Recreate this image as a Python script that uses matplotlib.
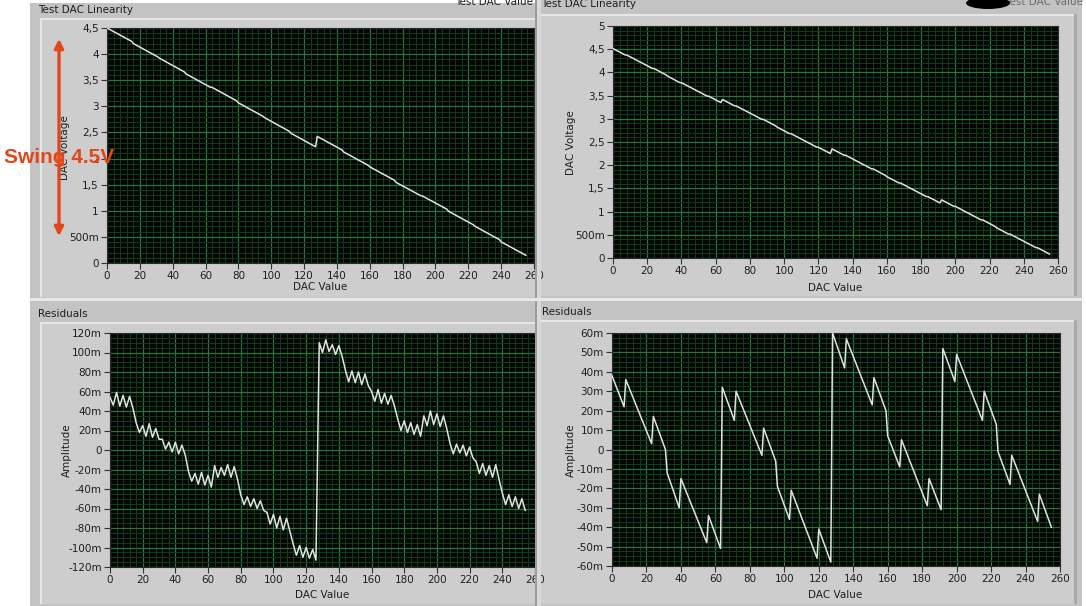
import matplotlib
matplotlib.use("Agg")
import matplotlib.pyplot as plt
from matplotlib.patches import Rectangle, FancyArrowPatch, Ellipse
from matplotlib.ticker import FixedLocator, MultipleLocator

W, H = 1086, 606

# ---------------- data ----------------
# left DAC: output voltage at the codes where the staircase breaks
lin1_code = [0, 15, 16, 31, 32, 47, 48, 63, 64, 79, 80, 95, 96, 111, 112, 127,
             128, 143, 144, 159, 160, 175, 176, 191, 192, 207, 208, 223, 224, 239, 240, 255]
lin1_volt = [4.500, 4.244, 4.203, 3.945, 3.921, 3.661, 3.623, 3.364,
             3.363, 3.104, 3.067, 2.809, 2.782, 2.522, 2.484, 2.226,
             2.424, 2.167, 2.128, 1.871, 1.842, 1.585, 1.544, 1.289,
             1.284, 1.029, 0.989, 0.733, 0.704, 0.446, 0.405, 0.148]

# left DAC: residuals (mV), every second code 0..254
res1_code = list(range(0, 256, 2))
res1_mv = [54, 46, 59, 45, 56, 44, 55, 43,
           28, 18, 25, 14, 27, 13, 22, 11,
           11, 1, 8, -2, 8, -4, 5, -5,
           -22, -32, -24, -35, -23, -36, -26, -38,
           -16, -28, -18, -26, -15, -28, -17, -30,
           -46, -56, -48, -58, -50, -60, -52, -62,
           -64, -76, -66, -80, -68, -82, -70, -83,
           -96, -108, -98, -110, -100, -111, -102, -113,
           110, 100, 113, 101, 108, 98, 107, 96,
           82, 70, 81, 69, 80, 67, 78, 66,
           60, 50, 62, 48, 58, 47, 56, 45,
           32, 20, 30, 18, 28, 16, 26, 14,
           35, 25, 40, 26, 37, 24, 35, 22,
           7, -4, 6, -3, 5, -6, 3, -8,
           -12, -24, -14, -26, -16, -28, -15, -30,
           -44, -56, -46, -58, -48, -60, -50, -62]

# right DAC: break points (code, voltage, residual in mV)
lin2_code = [0, 7, 8, 23, 24, 31, 32, 39, 40, 55, 56, 63,
             64, 71, 72, 87, 88, 95, 96, 103, 104, 119, 120, 127,
             128, 135, 136, 151, 152, 159, 160, 167, 168, 183, 184, 191,
             192, 199, 200, 215, 216, 223, 224, 231, 232, 247, 248, 255]
lin2_volt = [4.513, 4.378, 4.375, 4.086, 4.083, 3.946, 3.917, 3.780, 3.778, 3.489, 3.486, 3.350,
             3.416, 3.279, 3.277, 2.988, 2.985, 2.849, 2.819, 2.682, 2.680, 2.390, 2.387, 2.251,
             2.352, 2.215, 2.213, 1.923, 1.920, 1.783, 1.753, 1.618, 1.615, 1.325, 1.322, 1.187,
             1.252, 1.116, 1.113, 0.823, 0.821, 0.685, 0.654, 0.517, 0.515, 0.225, 0.222, 0.086]
res2_mv = [38, 22, 36, 3, 17, 0, -12, -30, -15, -48, -34, -51,
           32, 15, 30, -3, 11, -6, -19, -36, -21, -56, -41, -58,
           60, 42, 57, 23, 37, 20, 7, -9, 5, -29, -15, -31,
           52, 35, 49, 15, 30, 13, -1, -18, -3, -37, -23, -40]

x_ticks = list(range(0, 261, 20))
v1_ticks = [0, 0.5, 1, 1.5, 2, 2.5, 3, 3.5, 4, 4.5]
v1_labels = ['0', '500m', '1', '1,5', '2', '2,5', '3', '3,5', '4', '4,5']
v2_ticks = v1_ticks + [5]
v2_labels = v1_labels + ['5']
r1_ticks = list(range(-120, 121, 20))
r1_labels = [('%dm' % t) if t != 0 else '0' for t in r1_ticks]
r2_ticks = list(range(-60, 61, 10))
r2_labels = [('%dm' % t) if t != 0 else '0' for t in r2_ticks]

# ---------------- drawing ----------------
fig = plt.figure(figsize=(W / 100, H / 100), dpi=100)
fig.patch.set_facecolor('white')


def box(x0, y0, x1, y1, color, z=-5):
    r = Rectangle((x0 / W, 1 - y1 / H), (x1 - x0) / W, (y1 - y0) / H,
                  transform=fig.transFigure, facecolor=color, edgecolor='none', zorder=z)
    fig.add_artist(r)


def label(x, y, s, **kw):
    kw.setdefault('color', '#1e1e1e')
    fig.text(x / W, 1 - y / H, s, fontsize=7.5, **kw)


def graph(l, t, r, b, xs, ys, ylim, yt, yl, xminor, yminor):
    ax = fig.add_axes([l / W, 1 - b / H, (r - l) / W, (b - t) / H])
    ax.set_facecolor('#010402')
    ax.set_xlim(0, 260)
    ax.set_ylim(*ylim)
    ax.xaxis.set_major_locator(FixedLocator(x_ticks))
    ax.set_xticklabels([str(v) for v in x_ticks])
    ax.yaxis.set_major_locator(FixedLocator(yt))
    ax.set_yticklabels(yl)
    ax.xaxis.set_minor_locator(MultipleLocator(xminor))
    ax.yaxis.set_minor_locator(MultipleLocator(yminor))
    ax.set_axisbelow(True)
    ax.grid(which='minor', color='#113d19', lw=0.7)
    ax.grid(which='major', color='#24773a', lw=0.9)
    ax.tick_params(which='major', direction='out', length=4, width=0.8, color='#333333',
                   labelsize=7.5, labelcolor='#1e1e1e', pad=2)
    ax.tick_params(which='minor', length=0)
    for s in ax.spines.values():
        s.set_color('#2a2a2a')
        s.set_linewidth(0.8)
    ax.plot(xs, ys, color='#e2e2e2', lw=1.1, zorder=3)
    return ax


# panel backgrounds
box(30, 3, 536, 298, '#c3c3c3')
box(40, 18, 536, 297, '#cdcdcd')
box(40, 18, 536, 20, '#e6e6e6')
box(40, 18, 42, 297, '#e6e6e6')
box(536, 0, 1082, 298, '#c3c3c3')
box(538, 14, 1077, 296, '#cdcdcd')
box(538, 14, 1077, 16, '#e6e6e6')
box(1074, 14, 1077, 296, '#a9a9a9')
box(30, 301, 536, 606, '#c3c3c3')
box(40, 322, 536, 604, '#cdcdcd')
box(40, 322, 536, 324, '#e6e6e6')
box(40, 322, 42, 604, '#e6e6e6')
box(536, 301, 1082, 606, '#c3c3c3')
box(538, 320, 1077, 604, '#cdcdcd')
box(538, 320, 1077, 322, '#e6e6e6')
box(1074, 320, 1077, 604, '#a9a9a9')

graph(107, 28, 534, 263, lin1_code, lin1_volt, (0, 4.5), v1_ticks, v1_labels, 4, 0.1)
graph(613, 26, 1058, 258, lin2_code, lin2_volt, (0, 5), v2_ticks, v2_labels, 4, 0.1)
graph(110, 333, 535, 567, res1_code, res1_mv, (-120, 120), r1_ticks, r1_labels, 4, 5)
graph(612, 333, 1060, 566, lin2_code, res2_mv, (-60, 60), r2_ticks, r2_labels, 4, 2.5)

# strip between the two screenshots (cuts the "260" of the left graphs)
box(535, 0, 541, 606, '#d9d9d9', z=4)
box(535, 0, 537, 606, '#9c9c9c', z=4)
box(30, 298, 536, 301, '#e8e8e8', z=4)
box(536, 298, 1082, 301, '#e8e8e8', z=4)

# titles and axis names (the ones on the top edge are cut in the screenshot too)
label(38, 10, 'Test DAC Linearity', va='center')
label(541, 4, 'Test DAC Linearity', va='center')
label(455, 2, 'Test DAC Value', va='center')
label(1005, 2, 'Test DAC Value', va='center', color='#6a6a6a')
fig.add_artist(Ellipse((988 / W, 1 - 3 / H), 44 / W, 12 / H, transform=fig.transFigure,
                       facecolor='black', zorder=6))
label(38, 314, 'Residuals', va='center')
label(542, 312, 'Residuals', va='center')
label(320, 287, 'DAC Value', ha='center', va='center')
label(835, 288, 'DAC Value', ha='center', va='center')
label(322, 595, 'DAC Value', ha='center', va='center')
label(835, 595, 'DAC Value', ha='center', va='center')
label(65, 148, 'DAC Voltage', ha='center', va='center', rotation=90)
label(571, 143, 'DAC Voltage', ha='center', va='center', rotation=90)
label(67, 450, 'Amplitude', ha='center', va='center', rotation=90)
label(571, 450, 'Amplitude', ha='center', va='center', rotation=90)

# annotation on the left
orange = '#e2461b'
fig.add_artist(FancyArrowPatch((59 / W, 1 - 36 / H), (59 / W, 1 - 239 / H), transform=fig.transFigure,
                               arrowstyle='<|-|>', mutation_scale=13, color=orange, lw=2.4, zorder=10))
fig.text(4 / W, 1 - 157 / H, 'Swing 4.5V', fontsize=15, fontweight='bold', color=orange,
         family='Liberation Sans', ha='left', va='center', zorder=11)

fig.savefig('out.png', dpi=100)
